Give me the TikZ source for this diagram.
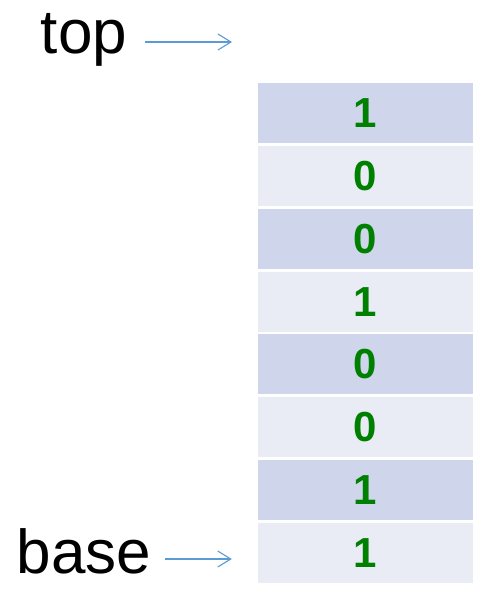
\documentclass[tikz,border=0pt]{standalone}
\usepackage{fontspec}
\setmainfont{Liberation Sans}
\usetikzlibrary{arrows.meta}
\definecolor{cellA}{HTML}{CFD5EA}
\definecolor{cellB}{HTML}{E9EBF5}
\definecolor{bitgreen}{HTML}{008000}
\definecolor{ptrblue}{HTML}{5B9BD5}
\tikzset{
 cell/.style={minimum width=215pt,minimum height=60pt,inner sep=0pt,text=bitgreen,font=\fontsize{42}{44}\selectfont\bfseries},
 ptr/.style={ptrblue,line width=1.1pt,-{Straight Barb[length=13pt,width=16pt,line width=1.1pt]}},
 lbl/.style={inner sep=0pt,anchor=base,font=\fontsize{62}{66}\selectfont}
}
\begin{document}
\begin{tikzpicture}[x=1pt,y=-1pt]
 \useasboundingbox[fill=white](0,0)rectangle(500,603);
 \foreach \v [count=\i] in {1,0,0,1,0,0,1,1}{
  \pgfmathsetmacro{\y}{113+(\i-1)*62.86}
  \ifodd\i \def\c{cellA}\else\def\c{cellB}\fi
  \node[cell,fill=\c](c\i) at (365.5,\y){\v};
 }
 \node[lbl](top) at (84,53){top};
 \node[lbl](base) at (84,573){base};
 \coordinate (topstart) at (145,42);
 \coordinate (topend) at (232,42);
 \coordinate (basestart) at (165,559);
 \draw[ptr] (topstart) -- (topend);
 \draw[ptr,shorten >=26pt] (basestart) -- (c8.west |- basestart);
\end{tikzpicture}
\end{document}
